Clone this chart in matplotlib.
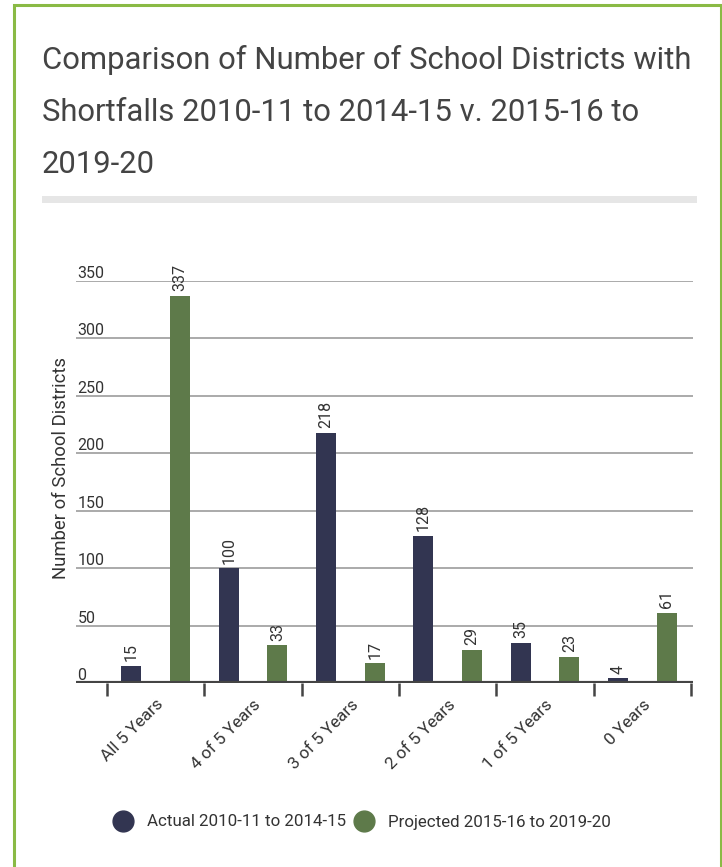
import matplotlib
matplotlib.use("Agg")
import matplotlib.pyplot as plt
from matplotlib.lines import Line2D
from matplotlib.patches import Rectangle
import numpy as np

plt.rcParams['font.family'] = ['Roboto', 'DejaVu Sans']

categories = ['All 5 Years', '4 of 5 Years', '3 of 5 Years', '2 of 5 Years', '1 of 5 Years', '0 Years']
actual = [15, 100, 218, 128, 35, 4]
projected = [337, 33, 17, 29, 23, 61]
series_names = ['Actual 2010-11 to 2014-15', 'Projected 2015-16 to 2019-20']
yticks = [0, 50, 100, 150, 200, 250, 300, 350]
title_lines = ['Comparison of Number of School Districts with',
               'Shortfalls 2010-11 to 2014-15 v. 2015-16 to',
               '2019-20']

navy = '#323551'
green = '#5e7a4a'
text_col = '#444444'

fig = plt.figure(figsize=(7.22, 8.67), dpi=100)

# green frame round the card
fig.patches.append(Rectangle((14 / 722, -0.01), (721 - 14) / 722, 1 - 5 / 867 + 0.01,
                             transform=fig.transFigure, fill=False,
                             edgecolor='#8aba45', linewidth=2.2))

# title, one line at a time so each baseline sits where we want it
for i, line in enumerate(title_lines):
    fig.text(42 / 722, 1 - (69 + 52 * i) / 867, line,
             fontsize=22.3, color=text_col, va='baseline', ha='left')

# light divider under the title
fig.patches.append(Rectangle((42 / 722, 1 - 203 / 867), (697 - 42) / 722, 7 / 867,
                             transform=fig.transFigure, color='#e6e6e6', linewidth=0))

ax = fig.add_axes([76 / 722, 184 / 867, (693 - 76) / 722, (683 - 281) / 867])

x = np.arange(len(categories))
offset = 0.25
width = 0.205
ax.bar(x - offset, actual, width, color=navy, zorder=3)
ax.bar(x + offset, projected, width, color=green, zorder=3)

for xi, a, p in zip(x, actual, projected):
    ax.text(xi - offset, a + 4, str(a), rotation=90, ha='center', va='bottom',
            fontsize=11.5, color='#333333', clip_on=False)
    ax.text(xi + offset, p + 4, str(p), rotation=90, ha='center', va='bottom',
            fontsize=11.5, color='#333333', clip_on=False)

ax.set_xlim(-0.82, 5.52)
ax.set_ylim(0, 350)

for s in ax.spines.values():
    s.set_visible(False)

ax.set_yticks(yticks)
ax.set_yticklabels([str(t) for t in yticks])
ax.tick_params(axis='y', length=0, pad=-1, labelsize=11.5, labelcolor='#333333')
for lab in ax.get_yticklabels():
    lab.set_ha('left')
    lab.set_va('bottom')
ax.yaxis.grid(True, color='#aaaaaa', linewidth=1.4, zorder=0)
ax.axhline(0, color='#444444', linewidth=3, zorder=4)

ax.set_xticks(x)
ax.set_xticklabels(categories, rotation=45, ha='right', rotation_mode='anchor')
ax.set_xticks(np.arange(len(categories) + 1) - 0.5, minor=True)
ax.tick_params(axis='x', which='major', length=0, pad=10, labelsize=12.3, labelcolor='#333333')
ax.tick_params(axis='x', which='minor', length=9.5, width=1.8, color='#444444')

ax.set_ylabel('Number of School Districts', fontsize=13.3, color='#333333')
ax.yaxis.set_label_coords(-6 / 617, 0.535)

handles = [Line2D([], [], linestyle='none', marker='o', markersize=15, color=c) for c in (navy, green)]
fig.legend(handles, series_names, loc='center', bbox_to_anchor=(0.5, 45 / 867), ncol=2,
           frameon=False, fontsize=12.2, handletextpad=0.75, columnspacing=0.3,
           labelcolor='#333333', handlelength=1.4)

fig.savefig('out.png', dpi=100, facecolor='white')
